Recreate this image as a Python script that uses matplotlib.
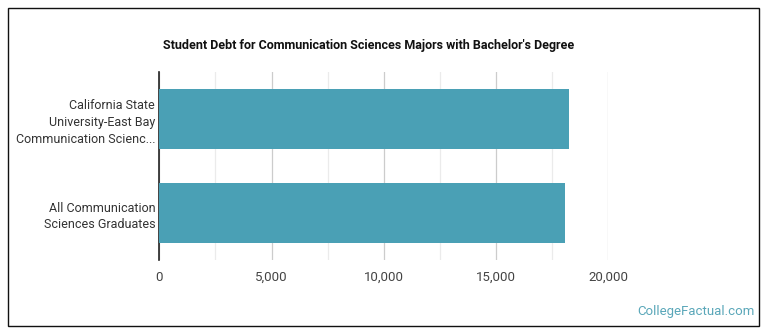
import matplotlib
matplotlib.use("Agg")
import matplotlib.pyplot as plt
from matplotlib.patches import Rectangle
from matplotlib.ticker import FuncFormatter, MultipleLocator

plt.rcParams['font.family'] = ['Roboto', 'DejaVu Sans']

categories = ["California State\nUniversity-East Bay\nCommunication Scienc...",
              "All Communication\nSciences Graduates"]
values = [18260, 18085]
xticks = [0, 5000, 10000, 15000, 20000]

W, H = 770, 335
fig = plt.figure(figsize=(W / 100, H / 100), dpi=100)
fig.patch.set_facecolor('white')

# outer border
fig.patches.append(Rectangle((8 / W, 1 - 326 / H), (759 - 8) / W, (326 - 8) / H,
                             transform=fig.transFigure, fill=False,
                             edgecolor='#111111', linewidth=1.0))

ax_l, ax_r, ax_t, ax_b = 159.3, 608.3, 72, 260
ax = fig.add_axes([ax_l / W, 1 - ax_b / H, (ax_r - ax_l) / W, (ax_b - ax_t) / H])

ypos = list(range(len(categories)))
ax.barh(ypos, values, height=0.63, color='#4aa0b5', zorder=3)
ax.set_ylim(len(categories) - 0.5, -0.5)
ax.set_xlim(0, 20000)
ax.set_yticks(ypos)
ax.set_yticklabels(categories, fontsize=9, color='#333333', linespacing=1.38)
ax.set_xticks(xticks)
ax.xaxis.set_minor_locator(MultipleLocator(2500))
ax.xaxis.set_major_formatter(FuncFormatter(lambda v, p: f"{int(v):,}"))
ax.tick_params(axis='x', which='both', length=0, labelsize=9.5, labelcolor='#444444', pad=8)
ax.tick_params(axis='y', length=0, pad=3)
ax.grid(axis='x', which='major', color='#cccccc', linewidth=0.9, zorder=0)
ax.grid(axis='x', which='minor', color='#ebebeb', linewidth=0.9, zorder=0)
for s in ['top', 'right', 'bottom']:
    ax.spines[s].set_visible(False)
ax.spines['left'].set_color('#222222')
ax.spines['left'].set_linewidth(1.2)
ax.set_facecolor('none')

fig.text(368.5 / W, 1 - 45 / H,
         "Student Debt for Communication Sciences Majors with Bachelor's Degree",
         ha='center', va='center', fontsize=9, fontweight='bold', color='#111111')
fig.text(755 / W, 1 - 312 / H, "CollegeFactual.com", ha='right', va='center',
         fontsize=9.5, color='#5aa7b9')

fig.savefig('out.png', dpi=100, facecolor='white')
